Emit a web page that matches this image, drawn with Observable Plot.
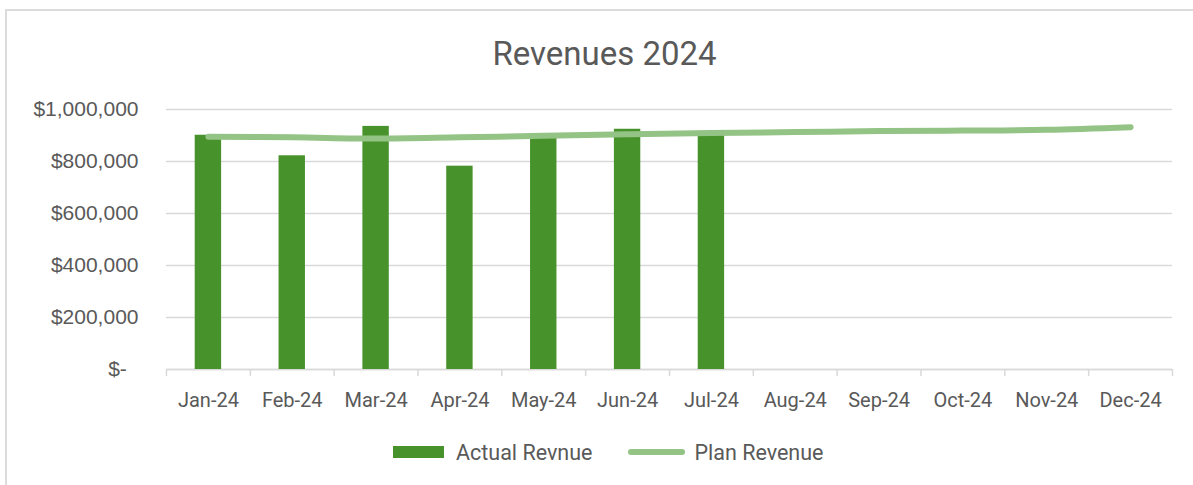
<!DOCTYPE html>
<html>
<head>
<meta charset="utf-8">
<script src="https://cdn.jsdelivr.net/npm/d3@7"></script>
<script src="https://cdn.jsdelivr.net/npm/@observablehq/plot@0.6"></script>
<style>
  body { margin: 0; background: #fff; }
  #wrap { position: relative; width: 1193px; height: 485px; overflow: hidden; background: #fff; }
  #frame { position: absolute; left: 5px; top: 9px; width: 1400px; height: 700px; border: 2px solid #dcdcdc; box-sizing: border-box; }
  #title { position: absolute; left: 5px; width: 1199px; top: 34px; text-align: center; font-family: Roboto, sans-serif; font-size: 33px; color: #595959; line-height: normal; }
  #chart { position: absolute; left: 0; top: 90px; }
  #legend { position: absolute; top: 438px; left: 393px; height: 28px; display: flex; align-items: center; font-family: Roboto, sans-serif; font-size: 21.5px; color: #595959; }
  .sw-bar { width: 51px; height: 12px; margin-right: 12px; }
  .sw-line { width: 57px; height: 6px; border-radius: 3px; margin-left: 36px; margin-right: 9px; }
</style>
</head>
<body>
<div id="wrap">
  <div id="frame"></div>
  <div id="title"></div>
  <div id="chart"></div>
  <div id="legend"></div>
</div>
<script>
const chartTitle = "Revenues 2024";
const months = ["Jan-24","Feb-24","Mar-24","Apr-24","May-24","Jun-24","Jul-24","Aug-24","Sep-24","Oct-24","Nov-24","Dec-24"];
const actualRevenue = [901000, 822000, 935000, 782000, 895000, 924000, 910000];
const planRevenue = [895000, 893000, 888000, 893000, 899000, 905000, 910000, 913000, 917000, 919000, 922000, 932000];
const yTicks = [0, 200000, 400000, 600000, 800000, 1000000];
const seriesNames = ["Actual Revnue", "Plan Revenue"];
const colors = { actual: "#47922A", plan: "#93C385" };

const actualRows = actualRevenue.map((v, i) => ({ month: months[i], value: v }));
const planRows = planRevenue.map((v, i) => ({ month: months[i], value: v }));

const W = 1193, H = 330, mL = 166, mR = 21;
const step = (W - mL - mR) / months.length;
const grid = "#d9d9d9";

const chart = Plot.plot({
  width: W,
  height: H,
  marginTop: 19,
  marginBottom: 51,
  marginLeft: mL,
  marginRight: mR,
  style: { background: "transparent", color: "#595959", fontFamily: "Roboto, sans-serif" },
  x: { domain: months, paddingInner: 0.685, paddingOuter: 0.3425, round: false, axis: null, label: null },
  y: { domain: [0, 1000000], axis: null, label: null },
  marks: [
    Plot.gridY(yTicks, { stroke: grid, strokeOpacity: 1, strokeWidth: 1.5 }),
    Plot.ruleY([0], { stroke: grid, strokeWidth: 1.5 }),
    Plot.ruleX(months, { x: d => d, y1: 0, y2: 0, insetBottom: -7, dx: -step / 2, stroke: grid, strokeWidth: 1.5 }),
    Plot.ruleX([months[months.length - 1]], { x: d => d, y1: 0, y2: 0, insetBottom: -7, dx: step / 2, stroke: grid, strokeWidth: 1.5 }),
    Plot.barY(actualRows, { x: "month", y: "value", fill: colors.actual }),
    Plot.line(planRows, { x: "month", y: "value", stroke: colors.plan, strokeWidth: 6, strokeLinecap: "round", strokeLinejoin: "round", curve: "catmull-rom" }),
    Plot.axisY(yTicks, {
      label: null, tickSize: 0, tickPadding: 28, fontSize: 21, fontFamily: "Liberation Sans, Arial, sans-serif", fill: "#595959",
      tickFormat: d => d === 0 ? "$-\u00a0\u00a0" : "$" + d3.format(",")(d)
    }),
    Plot.axisX({ label: null, tickSize: 0, tickPadding: 23, fontSize: 20, fill: "#595959" })
  ]
});
document.getElementById("chart").appendChild(chart);
document.getElementById("title").textContent = chartTitle;

const legend = document.getElementById("legend");
legend.innerHTML = `<div class="sw-bar" style="background:${colors.actual}"></div><span>${seriesNames[0]}</span>` +
  `<div class="sw-line" style="background:${colors.plan}"></div><span>${seriesNames[1]}</span>`;
</script>
</body>
</html>
